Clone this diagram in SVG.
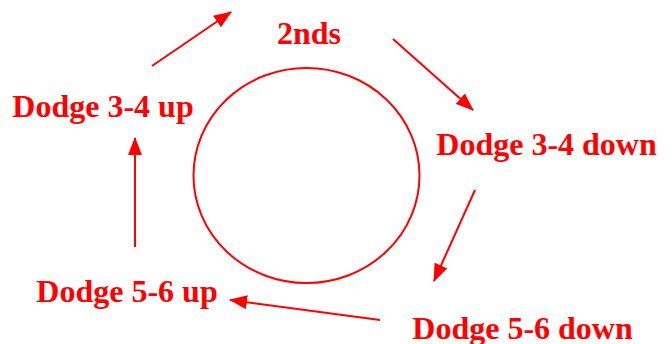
<svg xmlns="http://www.w3.org/2000/svg" width="672" height="344" viewBox="0 0 672 344">
<defs>
<style>
.lbl{font-family:"Liberation Serif","Times New Roman",serif;font-weight:bold;font-size:32px;fill:#ff0000}
.cn{stroke:#ff0000;stroke-width:2;fill:none}
</style>
<marker id="ah" markerUnits="userSpaceOnUse" markerWidth="18" markerHeight="14" refX="17" refY="7" orient="auto" viewBox="0 0 18 14">
<path d="M0,0 L18,7 L0,14 Z" fill="#ff0000"/>
</marker>
</defs>
<rect width="672" height="344" fill="#ffffff"/>
<g id="circle"><ellipse cx="306.5" cy="175.5" rx="113" ry="107.5" class="cn"/></g>
<g id="n-2nds"><text class="lbl" x="309" y="44" text-anchor="middle">2nds</text></g>
<g id="n-d34down"><text class="lbl" x="546.5" y="155" text-anchor="middle">Dodge 3-4 down</text></g>
<g id="n-d56down"><text class="lbl" x="522.5" y="339" text-anchor="middle">Dodge 5-6 down</text></g>
<g id="n-d56up"><text class="lbl" x="127" y="302" text-anchor="middle">Dodge 5-6 up</text></g>
<g id="n-d34up"><text class="lbl" x="103" y="117" text-anchor="middle">Dodge 3-4 up</text></g>
<g id="connectors">
<line class="cn" x1="152" y1="66" x2="231" y2="12" marker-end="url(#ah)"/>
<line class="cn" x1="393" y1="39" x2="473" y2="110" marker-end="url(#ah)"/>
<line class="cn" x1="475" y1="190" x2="434" y2="281" marker-end="url(#ah)"/>
<line class="cn" x1="380" y1="320" x2="230" y2="300" marker-end="url(#ah)"/>
<line class="cn" x1="135" y1="247" x2="135" y2="138" marker-end="url(#ah)"/>
</g>
</svg>
